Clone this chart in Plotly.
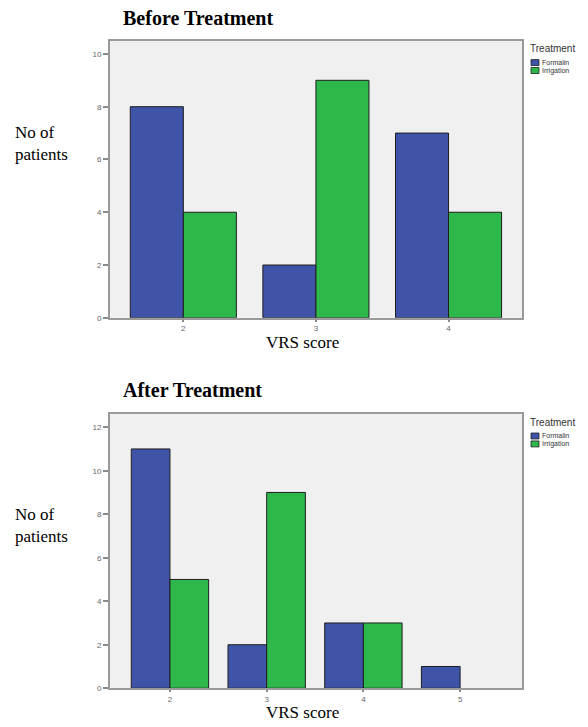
import plotly.graph_objects as go

# Data
before_categories = ["2", "3", "4"]
before_formalin = [8, 2, 7]
before_irrigation = [4, 9, 4]

after_categories = ["2", "3", "4", "5"]
after_formalin = [11, 2, 3, 1]
after_irrigation = [5, 9, 3, 0]

series_names = ["Formalin", "Irrigation"]
colors = {"Formalin": "#3f54a8", "Irrigation": "#2eb84b"}

W, H = 588, 727

def px_x(p):
    return p / W

def px_y(p):
    return 1 - p / H

fig = go.Figure()

def outline(vals):
    return [1 if v > 0 else 0 for v in vals]

for name, vals in zip(series_names, [before_formalin, before_irrigation]):
    fig.add_trace(go.Bar(x=before_categories, y=vals, name=name,
                         marker=dict(color=colors[name], line=dict(color="#1e1e1e", width=outline(vals))),
                         xaxis="x", yaxis="y"))
for name, vals in zip(series_names, [after_formalin, after_irrigation]):
    fig.add_trace(go.Bar(x=after_categories, y=vals, name=name,
                         marker=dict(color=colors[name], line=dict(color="#1e1e1e", width=outline(vals))),
                         xaxis="x2", yaxis="y2"))

axis_common = dict(showline=True, mirror=True, linecolor="#9a9a9a", linewidth=2,
                   ticks="outside", tickcolor="#8a8a8a", tickwidth=1.5,
                   tickfont=dict(family="Liberation Sans", size=8, color="#666666"),
                   showgrid=False, zeroline=False)

fig.update_layout(
    width=W, height=H,
    margin=dict(l=0, r=0, t=0, b=0),
    paper_bgcolor="white",
    plot_bgcolor="#f0f0f0",
    barmode="group",
    bargap=0.2,
    bargroupgap=0,
    showlegend=False,
    xaxis=dict(domain=[px_x(110), px_x(522)], anchor="y", type="category", ticklen=2,
               range=[-0.553, 2.554], **axis_common),
    yaxis=dict(domain=[px_y(320), px_y(41)], anchor="x", range=[0, 10.5], ticklen=5,
               tickvals=[0, 2, 4, 6, 8, 10], **axis_common),
    xaxis2=dict(domain=[px_x(110), px_x(522)], anchor="y2", type="category", ticklen=2,
                range=[-0.62, 3.64], **axis_common),
    yaxis2=dict(domain=[px_y(693), px_y(417)], anchor="x2", range=[0, 12.6], ticklen=5,
                tickvals=[0, 2, 4, 6, 8, 10, 12], **axis_common),
)

serif = "Liberation Serif"
annos = [
    dict(text="<b>Before Treatment</b>", x=px_x(121), y=px_y(18), xanchor="left", yanchor="middle",
         font=dict(family=serif, size=20, color="black")),
    dict(text="<b>After Treatment</b>", x=px_x(121), y=px_y(393), xanchor="left", yanchor="middle",
         font=dict(family=serif, size=20, color="black")),
    dict(text="No of<br>patients", x=px_x(13), y=px_y(144), xanchor="left", yanchor="middle",
         align="left", font=dict(family=serif, size=17, color="black")),
    dict(text="No of<br>patients", x=px_x(13), y=px_y(529), xanchor="left", yanchor="middle",
         align="left", font=dict(family=serif, size=17, color="black")),
    dict(text="VRS score", x=px_x(302), y=px_y(345), xanchor="center", yanchor="middle",
         font=dict(family=serif, size=17, color="black")),
    dict(text="VRS score", x=px_x(302), y=px_y(717), xanchor="center", yanchor="middle",
         font=dict(family=serif, size=17, color="black")),
]

shapes = []
# Manual legends (one per panel)
for top in (49, 425):
    annos.append(dict(text="Treatment", x=px_x(528), y=px_y(top), xanchor="left", yanchor="middle",
                      font=dict(family="Liberation Sans", size=10, color="#333333")))
    for i, name in enumerate(series_names):
        yc = top + 14 + i * 8
        shapes.append(dict(type="rect", xref="paper", yref="paper",
                           x0=px_x(531), x1=px_x(539), y0=px_y(yc - 3), y1=px_y(yc + 3),
                           fillcolor=colors[name], line=dict(color="#1e1e1e", width=0.8)))
        annos.append(dict(text=name, x=px_x(540), y=px_y(yc), xanchor="left", yanchor="middle",
                          font=dict(family="Liberation Sans", size=7, color="#333333")))

for a in annos:
    a.update(xref="paper", yref="paper", showarrow=False)
fig.update_layout(annotations=annos, shapes=shapes)

fig.write_html("out.html", post_script="document.body.style.margin='0';",
               config={"displayModeBar": False})
